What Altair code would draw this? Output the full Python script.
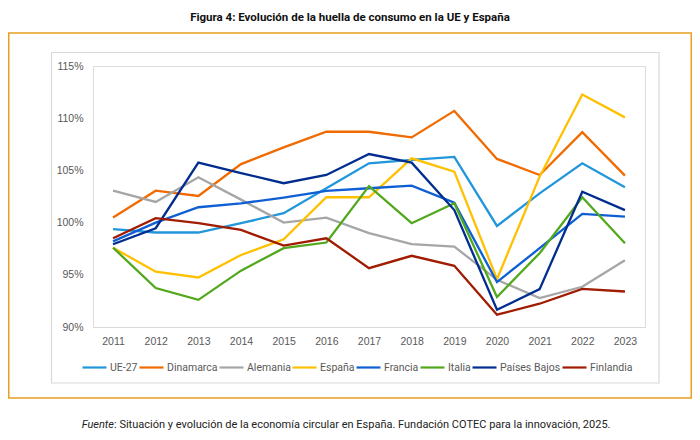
import altair as alt
import pandas as pd

TITLE = "Figura 4: Evolución de la huella de consumo en la UE y España"
FOOT_A = "Fuente"
FOOT_B = ": Situación y evolución de la economía circular en España. Fundación COTEC para la innovación, 2025."

years = [str(y) for y in range(2011, 2024)]
series_names = ["UE-27", "Dinamarca", "Alemania", "España", "Francia", "Italia", "Países Bajos", "Finlandia"]
series_colors = ["#2196DB", "#F06A00", "#A6A6A6", "#FFC000", "#0F5FD4", "#52A81C", "#002D8E", "#A11B00"]

ue27 = [99.37, 99.05, 99.05, 99.94, 100.9, 103.3, 105.68, 106.0, 106.3, 99.68, 102.8, 105.68, 103.38]
dinamarca = [100.48, 103.06, 102.55, 105.6, 107.2, 108.7, 108.7, 108.16, 110.7, 106.1, 104.56, 108.67, 104.5]
alemania = [103.06, 101.98, 104.34, 102.2, 100.0, 100.48, 98.99, 97.93, 97.7, 94.52, 92.77, 93.85, 96.4]
espana = [97.6, 95.3, 94.74, 96.9, 98.4, 102.43, 102.43, 106.15, 104.88, 94.59, 104.4, 112.27, 110.08]
francia = [98.2, 100.0, 101.47, 101.85, 102.4, 103.03, 103.29, 103.54, 101.9, 94.3, 97.55, 100.83, 100.57]
italia = [97.6, 93.73, 92.6, 95.4, 97.55, 98.09, 103.5, 99.94, 101.85, 92.87, 97.07, 102.43, 98.03]
paises_bajos = [97.93, 99.46, 105.74, 104.75, 103.77, 104.56, 106.57, 105.74, 101.2, 91.65, 93.63, 102.96, 101.2]
finlandia = [98.5, 100.42, 99.94, 99.3, 97.8, 98.5, 95.64, 96.82, 95.86, 91.18, 92.23, 93.66, 93.4]

y_ticks = [90, 95, 100, 105, 110, 115]

all_series = [ue27, dinamarca, alemania, espana, francia, italia, paises_bajos, finlandia]
rows = []
for name, vals in zip(series_names, all_series):
    for yr, v in zip(years, vals):
        rows.append({"year": yr, "serie": name, "value": v, "ord": series_names.index(name)})
df = pd.DataFrame(rows)

W, H = 552, 261
LABEL_FONT = "Liberation Sans"
LEG_FONT = "Roboto"
TITLE_FONT = "Roboto"

lines = alt.Chart(df).mark_line(strokeWidth=2.3, strokeJoin="miter").encode(
    x=alt.X("year:O", sort=years,
            scale=alt.Scale(type="point", padding=0.47),
            axis=alt.Axis(title=None, labelAngle=0, ticks=False, tickSize=0,
                          domain=True, domainColor="#D9D9D9", domainWidth=1.2,
                          labelPadding=9, labelFont=LABEL_FONT, labelFontSize=10.5,
                          labelColor="#595959", grid=False)),
    y=alt.Y("value:Q",
            scale=alt.Scale(domain=[90, 115], nice=False, zero=False),
            axis=alt.Axis(title=None, values=y_ticks, labelExpr="datum.value + '%'",
                          ticks=False, tickSize=0, domain=False, grid=False,
                          labelPadding=10, labelFont=LABEL_FONT, labelFontSize=10.5,
                          labelColor="#595959")),
    color=alt.Color("serie:N", sort=series_names,
                    scale=alt.Scale(domain=series_names, range=series_colors),
                    legend=alt.Legend(title=None, orient="none", direction="horizontal",
                                      legendX=-12, legendY=288, symbolType="stroke",
                                      symbolSize=576, symbolStrokeWidth=2.2,
                                      labelFont=LEG_FONT, labelFontSize=10.5,
                                      labelColor="#595959", labelOffset=2,
                                      columnPadding=-5, symbolOffset=0)),
    order=alt.Order("ord:Q"),
    detail="serie:N",
)

one = pd.DataFrame({"k": [0]})

orange_box = alt.Chart(one).mark_rect(fill=None, stroke="#E8A020", strokeWidth=1.5).encode(
    x=alt.value(-84.25), x2=alt.value(598.25), y=alt.value(-33), y2=alt.value(332))

inner_box = alt.Chart(one).mark_rect(fill=None, stroke="#D9D9D9", strokeWidth=1.2).encode(
    x=alt.value(-41.5), x2=alt.value(566), y=alt.value(-13.5), y2=alt.value(317))

title = alt.Chart(pd.DataFrame({"t": [TITLE]})).mark_text(
    font=TITLE_FONT, fontSize=11.5, fontWeight="bold", color="#111111",
    align="center", baseline="middle").encode(
    text="t:N", x=alt.value(257), y=alt.value(-48))

foot_a = alt.Chart(pd.DataFrame({"t": [FOOT_A]})).mark_text(
    font=TITLE_FONT, fontSize=11, fontStyle="italic", color="#222222",
    align="right", baseline="middle").encode(
    text="t:N", x=alt.value(21), y=alt.value(359))

foot_b = alt.Chart(pd.DataFrame({"t": [FOOT_B]})).mark_text(
    font=TITLE_FONT, fontSize=11, color="#222222",
    align="left", baseline="middle").encode(
    text="t:N", x=alt.value(21), y=alt.value(359))

chart = alt.layer(orange_box, inner_box, lines, title, foot_a, foot_b).properties(
    width=W, height=H,
    autosize=alt.AutoSizeParams(type="none"),
    padding={"left": 85, "top": 58, "right": 47, "bottom": 105},
).configure_view(stroke=None).configure(background="white")

chart.save("out.html", embed_options={"renderer": "svg", "actions": False})
